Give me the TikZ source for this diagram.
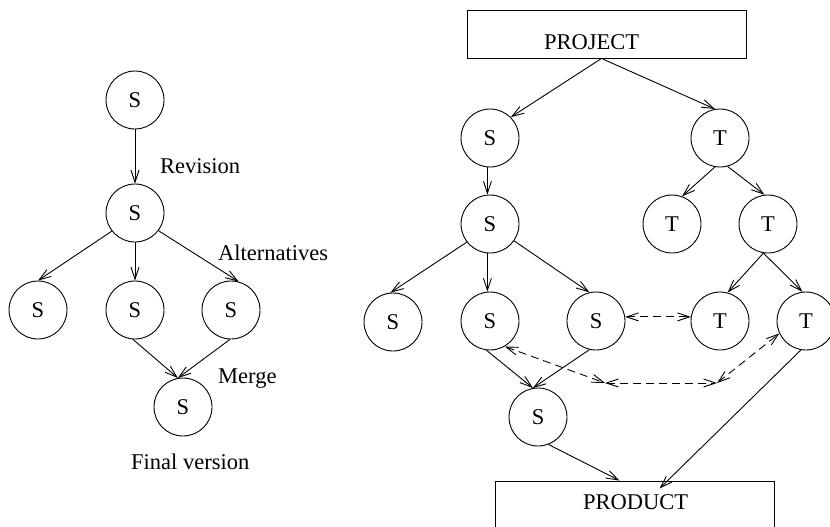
\documentclass[tikz,border=0pt]{standalone}
\usepackage{fontspec}
\setmainfont{Liberation Serif}
\usetikzlibrary{arrows.meta}
\begin{document}
\begin{tikzpicture}[x=1pt,y=-1pt,
  every node/.style={font=\fontsize{22.5}{27}\selectfont},
  ver/.style={circle,draw,minimum size=58pt,inner sep=0pt,line width=0.9pt},
  boxnode/.style={draw,rectangle,minimum width=279pt,minimum height=48pt,inner sep=0pt,line width=0.9pt},
  lbl/.style={anchor=base west,inner sep=0pt},
  arr/.style={line width=0.9pt,-{Straight Barb[length=12pt,width=8pt,line width=0.9pt]}},
  darr/.style={line width=0.9pt,dash pattern=on 8pt off 5pt,{Straight Barb[length=12pt,width=8pt,line width=0.9pt]}-{Straight Barb[length=12pt,width=8pt,line width=0.9pt]}}
]
\useasboundingbox (0,0) rectangle (830,527);
% ---- left tree
\node[ver] (L1) at (135,100) {S};
\node[ver] (L2) at (135,213) {S};
\node[ver] (L3a) at (38,310) {S};
\node[ver] (L3b) at (135,310) {S};
\node[ver] (L3c) at (231,310) {S};
\node[ver] (L4) at (183,407) {S};
\node[lbl] (rev) at (160,173) {Revision};
\node[lbl] (alt) at (218,260) {Alternatives};
\node[lbl] (mer) at (218,383) {Merge};
\node[lbl] (fin) at (131,469) {Final version};
\draw[arr] (L1.south) -- (L2.north);
\draw[arr] (L2.218) -- (L3a.north);
\draw[arr] (L2.south) -- (L3b.north);
\draw[arr] (L2.-37) -- (L3c.75);
\draw[arr] (L3b.-94) -- (L4.100);
\draw[arr] (L3c.-92) -- (L4.100);
% ---- right tree
\node[boxnode] (proj) at (606.5,34) {};
\node[lbl] (projt) at (544,49) {PROJECT};
\node[boxnode] (prod) at (634.5,505) {};
\node[lbl] (prodt) at (583,509) {PRODUCT};
\node[ver] (Sa) at (490,138) {S};
\node[ver] (Ta) at (720,138) {T};
\node[ver] (Sb) at (490,224) {S};
\node[ver] (Tb) at (672,224) {T};
\node[ver] (Tc) at (768,224) {T};
\node[ver] (SL) at (393,322) {S};
\node[ver] (SM) at (490,321) {S};
\node[ver] (SR) at (596,321) {S};
\node[ver] (Td) at (720,321) {T};
\node[ver] (Te) at (806,321) {T};
\node[ver] (Sf) at (538,417) {S};
\coordinate (c1) at (605,383);
\coordinate (c2) at (717,383);
\draw[arr] ([xshift=-5pt]proj.south) -- (Sa.45);
\draw[arr] ([xshift=-5pt]proj.south) -- (Ta.100);
\draw[arr] (Sa.265) -- (Sb.95);
\draw[arr] (Ta.-100) -- (Tb.70);
\draw[arr] (Ta.-75) -- (Tc.97);
\draw[arr] (Tc.-99) -- (Td.75);
\draw[arr] (Tc.-99) -- (Te.97);
\draw[arr] (Sb.218) -- (SL.95);
\draw[arr] (Sb.265) -- (SM.95);
\draw[arr] (Sb.-35) -- (SR.103);
\draw[arr] (SM.-97) -- (Sf.100);
\draw[arr] (SR.-103) -- (Sf.100);
\draw[arr] (Sf.-69) -- ([xshift=-15pt]prod.north);
\draw[arr] (Te.-100) -- ([xshift=25pt,yshift=-8pt]prod.north);
\draw[darr] (SR.8) -- (Td.172);
\draw[darr] (SM.-60) -- (c1);
\draw[darr] (c1) -- (c2);
\draw[darr] (c2) -- (Te.205);
\end{tikzpicture}
\end{document}
